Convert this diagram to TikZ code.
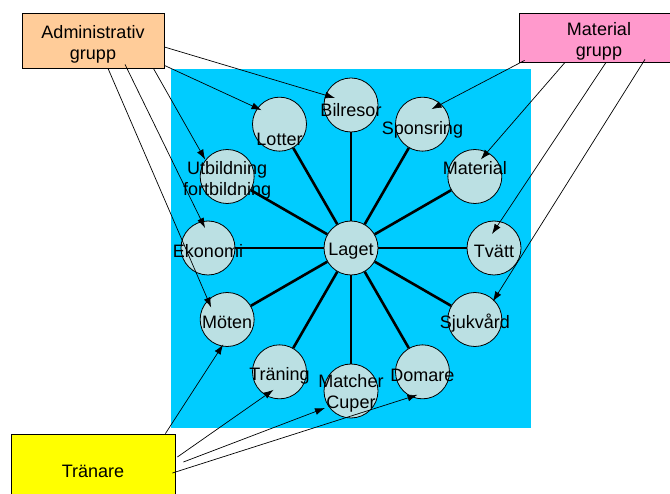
\documentclass[tikz,border=0pt]{standalone}
\usepackage{fontspec}
\setmainfont{Liberation Sans}
\usetikzlibrary{arrows.meta,calc}
\definecolor{poolblue}{HTML}{00CCFF}
\definecolor{ringfill}{HTML}{BBE0E3}
\definecolor{adminfill}{HTML}{FFCC99}
\definecolor{matfill}{HTML}{FF99CC}
\definecolor{coachfill}{HTML}{FFFF00}
\tikzset{
    ring/.style={circle, draw, line width=0.8pt, fill=ringfill, minimum size=54pt, inner sep=0pt},
    group box/.style={rectangle, draw, line width=0.8pt, align=center, inner sep=0pt},
    spoke/.style={line width=2.6pt},
    link/.style={-{Latex[length=10pt,width=7pt]}, line width=0.7pt}
}

\begin{document}
\begin{tikzpicture}[x=1pt, y=-1pt, font=\fontsize{18}{21}\selectfont]
    \useasboundingbox (0,0) rectangle (670,494);
    \fill[poolblue] (171,69) rectangle (531,428);

    % the ring round the team
    \node[ring, label={[shift={(0,3)}]center:Laget}] (laget) at (351,248) {};
    \foreach \name/\ang/\txt/\dy in {bilresor/-90/Bilresor/5, sponsring/-60/Sponsring/6,
        material/-30/Material/-8, tvatt/0/Tvätt/3, sjukvard/30/Sjukvård/4,
        domare/60/Domare/4, matcher/90/{Matcher\\Cuper}/2, traning/120/Träning/4,
        moten/150/Möten/3, ekonomi/180/Ekonomi/3, utbildning/210/{Utbildning\\fortbildning}/4,
        lotter/240/Lotter/15}
        \node[ring, label={[align=center, shift={(0,\dy)}]center:\txt}] (\name) at ($(laget)+(\ang:143)$) {};
    \foreach \name in {bilresor,sponsring,material,tvatt,sjukvard,domare,matcher,traning,moten,ekonomi,utbildning,lotter}
        \draw[spoke] (laget) -- (\name);

    % groups
    \node[group box, fill=adminfill, minimum width=142pt, minimum height=55pt,
        label={[align=center, shift={(0,4)}]center:Administrativ\\grupp}] (admin) at (93,40.5) {};
    \node[group box, fill=matfill, minimum width=160pt, minimum height=49pt,
        label={[align=center, shift={(0,4)}]center:Material\\grupp}] (matgrupp) at (599,37.5) {};
    \node[group box, fill=coachfill, minimum width=164pt, minimum height=70pt,
        label={[shift={(0,2)}]center:Tränare}] (coach) at (93,469) {};

    \draw[link] ([shift={(0,6.5)}]admin.east) -- ([shift={(-16,-7)}]bilresor.center);
    \draw[link] ([shift={(0,-3)}]admin.south east) -- ([shift={(-18,-14)}]lotter.center);
    \draw[link] ([shift={(-11,0)}]admin.south east) -- ([shift={(-22,-17)}]utbildning.center);
    \draw[link] ([shift={(32,-4)}]admin.south) -- ([shift={(-3,-20)}]ekonomi.center);
    \draw[link] ([shift={(15,0)}]admin.south) -- ([shift={(-16,-12)}]moten.center);

    \draw[link] ([shift={(6,-2)}]matgrupp.south west) -- ([shift={(9,-15)}]sponsring.center);
    \draw[link] ([shift={(-34,0)}]matgrupp.south) -- ([shift={(6,-17)}]material.center);
    \draw[link] ([shift={(7,0)}]matgrupp.south) -- ([shift={(-2,-14)}]tvatt.center);
    \draw[link] ([shift={(46,-3)}]matgrupp.south) -- ([shift={(18,-18)}]sjukvard.center);

    \draw[link] ([shift={(-10,0)}]coach.north east) -- ([shift={(-4,25)}]moten.center);
    \draw[link] ([shift={(2,-12)}]coach.east) -- ([shift={(-6,18)}]traning.center);
    \draw[link] ([shift={(8,-7)}]coach.east) -- ([shift={(-26,17)}]matcher.center);
    \draw[link] ([shift={(-3,4)}]coach.east) -- ([shift={(-5,23)}]domare.center);
\end{tikzpicture}
\end{document}
